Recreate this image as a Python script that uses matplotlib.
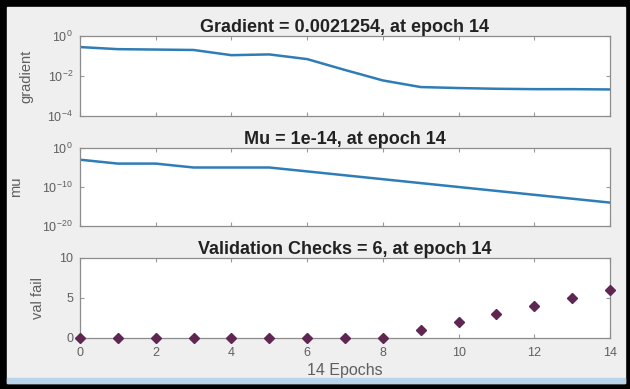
import numpy as np
import matplotlib
matplotlib.use("Agg")
import matplotlib.pyplot as plt
from matplotlib.patches import Rectangle

plt.rcParams['font.family'] = ['Liberation Sans', 'DejaVu Sans']
plt.rcParams['mathtext.default'] = 'regular'

# training state
epochs = np.arange(0, 15)
gradient = [0.28, 0.22, 0.21, 0.20, 0.11, 0.12, 0.07, 0.02, 0.006,
            0.0028, 0.0025, 0.0023, 0.0022, 0.0022, 0.0021254]
mu = [1e-3, 1e-4, 1e-4, 1e-5, 1e-5, 1e-5, 1e-6, 1e-7, 1e-8,
      1e-9, 1e-10, 1e-11, 1e-12, 1e-13, 1e-14]
val_fail = [0, 0, 0, 0, 0, 0, 0, 0, 0, 1, 2, 3, 4, 5, 6]

titles = ["Gradient = 0.0021254, at epoch 14",
          "Mu = 1e-14, at epoch 14",
          "Validation Checks = 6, at epoch 14"]
ylabels = ["gradient", "mu", "val fail"]
xticks = [0, 2, 4, 6, 8, 10, 12, 14]

line_col = '#2f7db6'
mark_col = '#5e2650'
txt_col = '#5f5f5f'

W, H = 630, 389
fig = plt.figure(figsize=(6.3, 3.89), dpi=100, facecolor='black')

# grey window area and the blue strip at the bottom
fig.add_artist(Rectangle((7 / W, 6 / H), 618 / W, 376 / H,
                         transform=fig.transFigure, color='#efefef', zorder=-10))
fig.add_artist(Rectangle((7 / W, 6 / H), 618 / W, 5 / H,
                         transform=fig.transFigure, color='#b9d3ea', zorder=-9))

ax1 = fig.add_axes([80 / W, 1 - 116 / H, 530 / W, 80 / H])
ax2 = fig.add_axes([80 / W, 1 - 226 / H, 530 / W, 78 / H])
ax3 = fig.add_axes([80 / W, 1 - 338 / H, 530 / W, 80 / H])

ax1.semilogy(epochs, gradient, color=line_col, lw=1.8)
ax1.set_ylim(1e-4, 1e0)
ax1.set_yticks([1e-4, 1e-2, 1e0])

ax2.semilogy(epochs, mu, color=line_col, lw=1.8)
ax2.set_ylim(1e-20, 1e0)
ax2.set_yticks([1e-20, 1e-10, 1e0])

ax3.plot(epochs, val_fail, 'D', color=mark_col, ms=5.5, clip_on=False, zorder=5)
ax3.set_ylim(0, 10)
ax3.set_yticks([0, 5, 10])

# right edge of each y label, in pixels
label_x = [33, 23, 45]

for i, ax in enumerate([ax1, ax2, ax3]):
    ax.set_facecolor('white')
    ax.set_xlim(0, 14)
    ax.set_xticks(xticks)
    ax.minorticks_off()
    ax.tick_params(direction='in', top=True, right=True, length=3,
                   colors='#999999', labelcolor=txt_col, labelsize=9, pad=5)
    ax.tick_params(axis='x', pad=6.5)
    for s in ax.spines.values():
        s.set_color('#8c8c8c')
        s.set_linewidth(0.9)
    ax.set_title(titles[i], fontsize=13, fontweight='bold', color='#222222', pad=3)
    ax.set_ylabel(ylabels[i], fontsize=10.5, color=txt_col)
    ax.yaxis.set_label_coords((label_x[i] - 80) / 530, 0.5)
    if i < 2:
        ax.set_xticklabels([])

ax3.set_xlabel("14 Epochs", fontsize=11.5, color=txt_col, labelpad=3)

fig.savefig("out.png", dpi=100, facecolor=fig.get_facecolor())
